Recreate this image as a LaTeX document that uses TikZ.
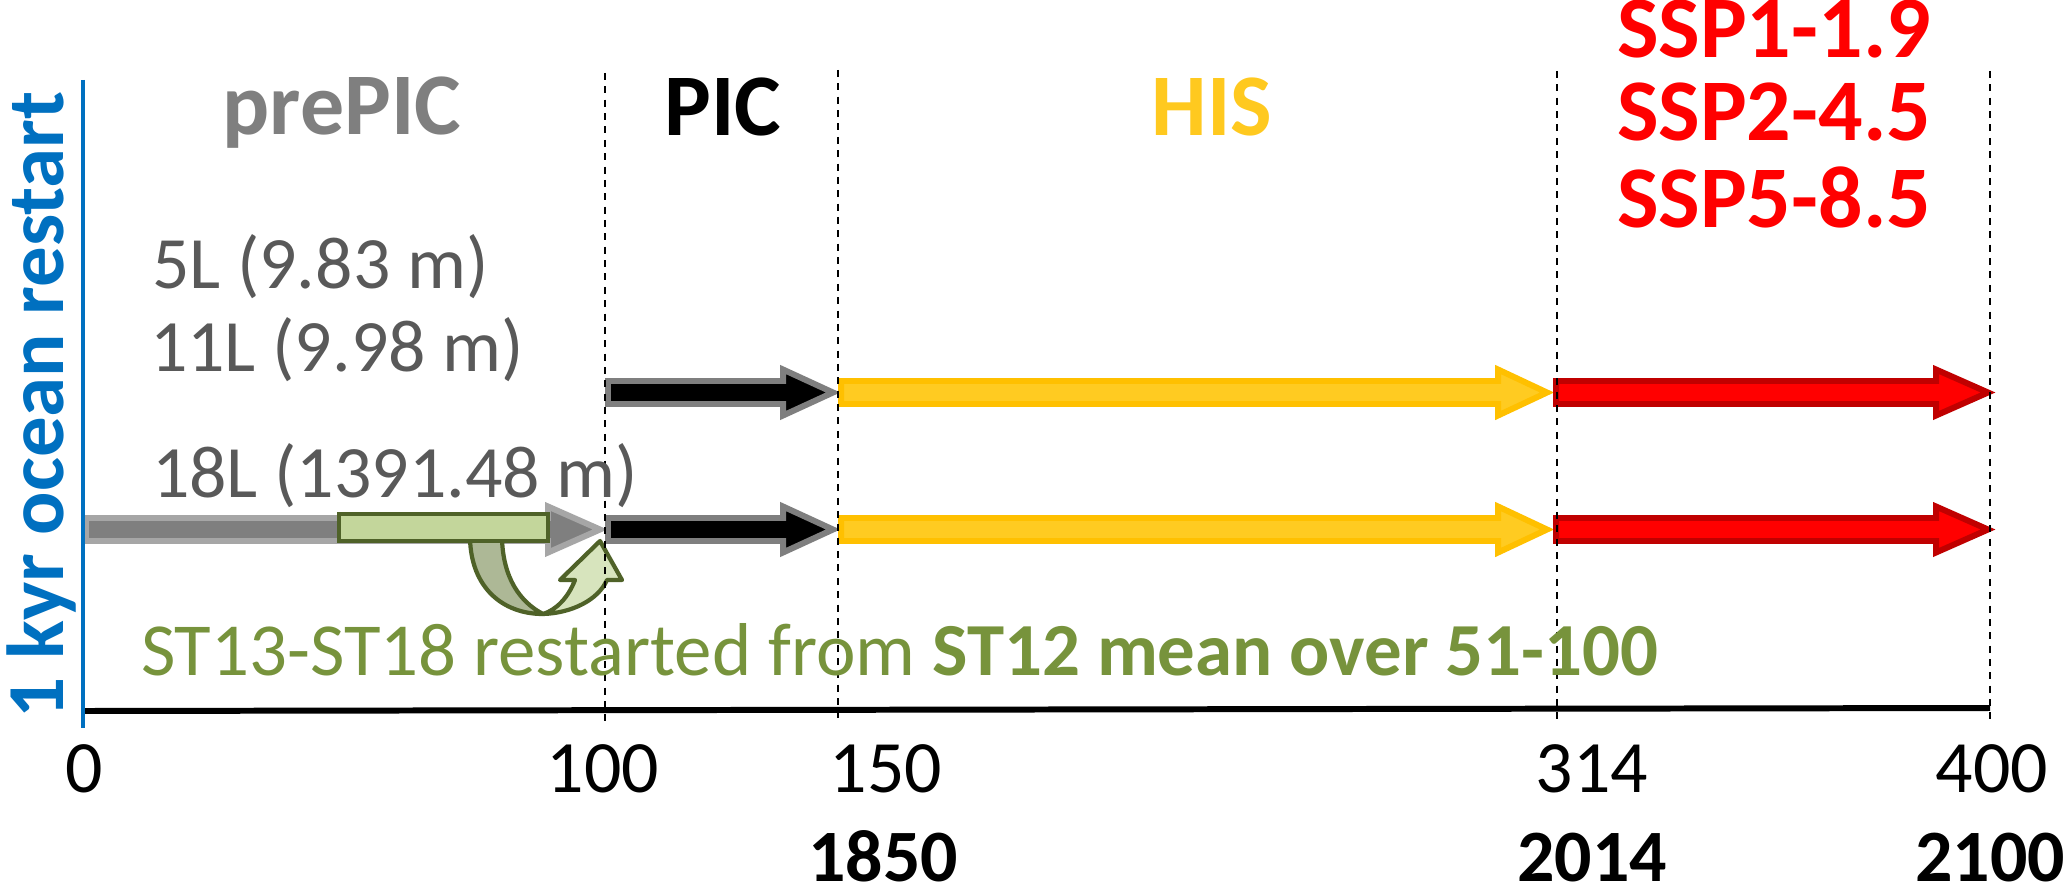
\documentclass[tikz,border=0pt]{standalone}
\usepackage{fontspec}
\setmainfont{Carlito}
\definecolor{gA}{HTML}{7F7F7F}
\definecolor{gB}{HTML}{A6A6A6}
\definecolor{yF}{HTML}{FFCB21}
\definecolor{yB}{HTML}{FFC000}
\definecolor{rF}{HTML}{FF0000}
\definecolor{rB}{HTML}{C00000}
\definecolor{grF}{HTML}{C3D69B}
\definecolor{grB}{HTML}{4F6228}
\definecolor{grBack}{HTML}{ADB896}
\definecolor{grFront}{HTML}{D7E4BD}
\definecolor{kblue}{HTML}{0070C0}
\definecolor{txgray}{HTML}{595959}
\definecolor{stgreen}{HTML}{77933C}
\definecolor{hisY}{HTML}{FFC91F}
\newcommand\blkarrow[6]{%
  \draw[line width=1.7pt, fill=#5, draw=#6, line join=miter, miter limit=4]
    (#1,#4-11.5) -- (#2,#4-11.5) -- (#2,#4-23) -- (#3,#4) -- (#2,#4+23)
    -- (#2,#4+11.5) -- (#1,#4+11.5) -- cycle;}
\begin{document}
\begin{tikzpicture}[x=0.01cm,y=-0.01cm,
  txt/.style={inner sep=0pt, outer sep=0pt},
  guideline/.style={line width=0.75pt, dash pattern=on 2pt off 1.8pt},
  ttl/.style={txt, anchor=base, font=\fontsize{25}{30}\selectfont\bfseries},
  lay/.style={txt, anchor=base west, text=txgray, font=\fontsize{21}{25}\selectfont},
  num/.style={txt, anchor=base, font=\fontsize{21}{25}\selectfont},
  yr/.style={txt, anchor=base, font=\fontsize{21}{25}\selectfont\bfseries}]
\useasboundingbox (0,0) rectangle (2067,882);
\fill[white] (0,0) rectangle (2067,882);

% 18L prePIC gray arrow
\blkarrow{86}{548}{600}{529.5}{gA}{gB}

% U-turn arrow
\draw[grB, line width=1.2pt, fill=grBack, line join=round]
  (470,538) .. controls (471,588) and (503,614) .. (543,614)
  .. controls (520,602) and (503,578) .. (502,538) -- cycle;
\draw[grB, line width=1.2pt, fill=grFront, line join=round]
  (543,614) .. controls (572,613) and (598,600) .. (607,580)
  -- (622,580) -- (600,541) -- (560,580) -- (575,580)
  .. controls (568,598) and (556,610) .. (543,614) -- cycle;

% green rectangle
\draw[grB, line width=1.2pt, fill=grF] (339,514) rectangle (548,541);

% PIC arrows
\blkarrow{608}{783}{833}{392.5}{black}{gA}
\blkarrow{608}{783}{833}{529.5}{black}{gA}
% HIS arrows
\blkarrow{841}{1498}{1547}{392.5}{yF}{yB}
\blkarrow{841}{1498}{1547}{529.5}{yF}{yB}
% SSP arrows
\blkarrow{1556}{1936}{1988}{392.5}{rF}{rB}
\blkarrow{1556}{1936}{1988}{529.5}{rF}{rB}

% dashed guide lines
\draw[guideline] (605,73) -- (605,722);
\draw[guideline] (838,70) -- (838,722);
\draw[guideline] (1557,71) -- (1557,722);
\draw[guideline] (1990,71) -- (1990,722);

% axis and blue line
\draw[line width=1.7pt] (83,711) -- (1990,708);
\draw[kblue, line width=1.3pt] (83,80) -- (83,728);

% titles
\node[ttl, text=gA] (prepic) at (342,135) {prePIC};
\node[ttl, text=black] (pic) at (723,136) {PIC};
\node[ttl, text=hisY] (his) at (1212,136) {HIS};
\node[ttl, text=rF] (ssp1) at (1774,58) {SSP1-1.9};
\node[ttl, text=rF] (ssp2) at (1774,141) {SSP2-4.5};
\node[ttl, text=rF] (ssp3) at (1774,227) {SSP5-8.5};

% layer labels
\node[lay] (l5) at (152,288) {5L (9.83 m)};
\node[lay] (l11) at (150,371) {11L (9.98 m)};
\node[lay] (l18) at (152,497) {18L (1391.48 m)};
\node[lay, text=stgreen, font=\fontsize{21.3}{25}\selectfont] (st) at (141,675) {ST13-ST18 restarted from \textbf{ST12 mean over 51-100}};

% vertical label
\node[txt, rotate=90, anchor=base, text=kblue, font=\fontsize{23}{28}\selectfont\bfseries] (kyr) at (63,405) {1 kyr ocean restart};

% axis numbers
\node[num] (n0) at (84,792) {0};
\node[num] (n100) at (603,792) {100};
\node[num] (n150) at (886,792) {150};
\node[num] (n314) at (1592,792) {314};
\node[num] (n400) at (1992,792) {400};
\node[yr] (y1850) at (883,881) {1850};
\node[yr] (y2014) at (1592,881) {2014};
\node[yr] (y2100) at (1990,881) {2100};
\end{tikzpicture}
\end{document}
